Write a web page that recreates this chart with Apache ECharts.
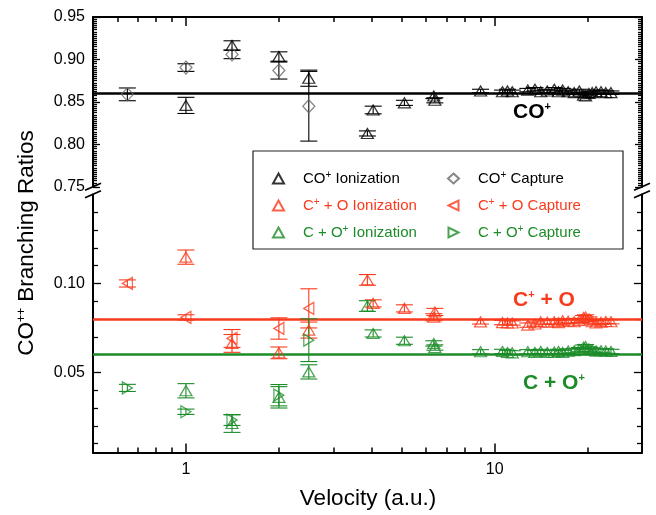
<!DOCTYPE html>
<html>
<head>
<meta charset="utf-8">
<script src="https://cdn.jsdelivr.net/npm/echarts@6/dist/echarts.min.js"></script>
<style>
  html, body { margin: 0; padding: 0; background: #fff; }
  #chart { width: 656px; height: 515px; }
</style>
</head>
<body>
<div id="chart"></div>
<script>
// ---------------- data ----------------
// Projectile velocity (a.u.) of the ionization measurements
const ionVelocity = [1.0, 1.41, 2.0, 2.5, 3.87, 4.04, 5.1, 6.35, 6.4, 9.0, 10.6, 11.0, 11.4, 12.8, 13.5,
  14.1, 14.8, 15.6, 16.1, 16.6, 17.3, 18.1, 18.8, 19.4, 19.7, 20.2, 20.7, 21.3, 22.1, 22.9, 23.8];
// Projectile velocity (a.u.) of the capture measurements
const capVelocity = [0.646, 1.0, 1.41, 2.0, 2.5];

// CO+ channel
const coIonValue = [0.846, 0.9165, 0.9035, 0.878, 0.813, 0.8406, 0.849, 0.857, 0.852, 0.863, 0.862, 0.863, 0.862, 0.864, 0.865,
  0.862, 0.863, 0.865, 0.862, 0.864, 0.862, 0.861, 0.863, 0.858, 0.857, 0.860, 0.861, 0.862, 0.862, 0.861, 0.861];
const coIonError = [0.0095, 0.0055, 0.0055, 0.0095, 0.003, 0.0045, 0.003, 0.003, 0.003, 0.002, 0.002, 0.002, 0.002, 0.002, 0.002,
  0.002, 0.002, 0.002, 0.002, 0.002, 0.002, 0.002, 0.002, 0.002, 0.002, 0.002, 0.002, 0.002, 0.002, 0.002, 0.002];
const coCapValue = [0.859, 0.8905, 0.906, 0.887, 0.845];
const coCapError = [0.0075, 0.0045, 0.005, 0.010, 0.041];

// C+ + O channel
const cpoIonValue = [0.1148, 0.0663, 0.061, 0.0738, 0.102, 0.0888, 0.086, 0.081, 0.084, 0.0784, 0.078, 0.0778, 0.0778, 0.0766, 0.0772,
  0.0784, 0.0782, 0.0785, 0.078, 0.079, 0.0788, 0.0785, 0.0792, 0.0808, 0.0812, 0.080, 0.0785, 0.0778, 0.0782, 0.0786, 0.0785];
const cpoIonError = [0.004, 0.005, 0.0033, 0.0045, 0.003, 0.002, 0.002, 0.002, 0.002, 0.0012, 0.0012, 0.0012, 0.0012, 0.0012, 0.0012,
  0.0012, 0.0012, 0.0012, 0.0012, 0.0012, 0.0012, 0.0012, 0.0012, 0.0012, 0.0012, 0.0012, 0.0012, 0.0012, 0.0012, 0.0012, 0.0012];
const cpoCapValue = [0.100, 0.0809, 0.0691, 0.0747, 0.086];
const cpoCapError = [0.002, 0.0015, 0.005, 0.006, 0.011];

// C + O+ channel
const copIonValue = [0.0397, 0.0213, 0.036, 0.0503, 0.0873, 0.0719, 0.0678, 0.0663, 0.064, 0.0616, 0.0618, 0.0612, 0.061, 0.0616, 0.0612,
  0.0618, 0.0612, 0.0614, 0.0618, 0.0612, 0.062, 0.0622, 0.0628, 0.0642, 0.0645, 0.0632, 0.0626, 0.062, 0.0622, 0.062, 0.0618];
const copIonError = [0.004, 0.005, 0.006, 0.004, 0.003, 0.002, 0.002, 0.0015, 0.0015, 0.0012, 0.0012, 0.0012, 0.0012, 0.0012, 0.0012,
  0.0012, 0.0012, 0.0012, 0.0012, 0.0012, 0.0012, 0.0012, 0.0012, 0.0012, 0.0012, 0.0012, 0.0012, 0.0012, 0.0012, 0.0012, 0.0012];
const copCapValue = [0.0413, 0.0279, 0.0232, 0.0372, 0.0681];
const copCapError = [0.002, 0.0015, 0.003, 0.006, 0.012];

// Average branching ratios (horizontal lines)
const coMean = 0.862;
const cpoMean = 0.0775;
const copMean = 0.060;

// Axis ticks
const xMajorTicks = [1, 10];
const xMinorTicks = [0.6, 0.7, 0.8, 0.9, 2, 3, 4, 5, 6, 7, 8, 9, 20];
const topMajorTicks = [0.75, 0.80, 0.85, 0.90, 0.95];
const bottomMajorTicks = [0.05, 0.10];
const bottomMinorTicks = [0.01, 0.02, 0.03, 0.04, 0.06, 0.07, 0.08, 0.09, 0.11, 0.12, 0.13, 0.14];

// ---------------- drawing ----------------
const FONT = "'Liberation Sans', Arial, Helvetica, sans-serif";
const BLACK = '#000000';
const GREY = '#666666';
const RED = '#fa3a1c';
const GREEN = '#1b8c28';

// Legend icon shapes for the sideways triangles
const LEFT_TRIANGLE = 'path://M0,5L10,0L10,10Z';
const RIGHT_TRIANGLE = 'path://M10,5L0,0L0,10Z';

const topMinorTicks = [];
for (let k = 1; k < 80; k++) {
  if (k % 20 !== 0) topMinorTicks.push(+(0.75 + k * 0.0025).toFixed(4));
}

const chart = echarts.init(document.getElementById('chart'), null, { renderer: 'canvas' });

function pairs(xs, ys) { return xs.map((x, i) => [x, ys[i]]); }
function triples(xs, ys, es) { return xs.map((x, i) => [x, ys[i], es[i]]); }

function errorBars(name, xs, ys, es, color, panel) {
  return {
    type: 'custom',
    name: name + ' err',
    xAxisIndex: panel === 0 ? 0 : 2,
    yAxisIndex: panel === 0 ? 0 : 4,
    data: triples(xs, ys, es),
    encode: { x: 0, y: 1 },
    silent: true,
    z: 3,
    renderItem: function (params, api) {
      const x = api.value(0), y = api.value(1), e = api.value(2);
      const hi = api.coord([x, y + e]);
      const lo = api.coord([x, y - e]);
      const half = 8.5;
      const st = { stroke: color, lineWidth: 1.1, fill: null };
      return {
        type: 'group',
        children: [
          { type: 'line', shape: { x1: hi[0], y1: hi[1], x2: lo[0], y2: lo[1] }, style: st },
          { type: 'line', shape: { x1: hi[0] - half, y1: hi[1], x2: hi[0] + half, y2: hi[1] }, style: st },
          { type: 'line', shape: { x1: lo[0] - half, y1: lo[1], x2: lo[0] + half, y2: lo[1] }, style: st }
        ]
      };
    }
  };
}

function markers(name, xs, ys, color, panel, symbol, rotate, size, meanLine) {
  const s = {
    type: 'scatter',
    name: name,
    xAxisIndex: panel === 0 ? 0 : 2,
    yAxisIndex: panel === 0 ? 0 : 4,
    data: pairs(xs, ys),
    symbol: symbol,
    symbolRotate: rotate,
    symbolSize: size,
    itemStyle: { color: 'rgba(255,255,255,0)', borderColor: color, borderWidth: 1.25 },
    emphasis: { disabled: true },
    z: 4
  };
  if (meanLine !== undefined) {
    s.markLine = {
      silent: true,
      symbol: 'none',
      label: { show: false },
      lineStyle: { color: color, width: 2.6, type: 'solid' },
      data: [{ yAxis: meanLine }],
      z: 2
    };
  }
  return s;
}

function xAxisDef(grid, pos, ticks, len, showLine, labels) {
  return {
    type: 'log', logBase: 10, gridIndex: grid, position: pos, min: 0.5, max: 30,
    axisLine: { show: showLine, lineStyle: { color: BLACK, width: 2 } },
    axisTick: { show: true, inside: true, length: len, customValues: ticks, lineStyle: { color: BLACK, width: 1.5 } },
    axisLabel: labels ? { show: true, customValues: labels, color: BLACK, fontSize: 16, fontFamily: FONT, margin: 9 }
                      : { show: false },
    splitLine: { show: false },
    minorTick: { show: false }
  };
}

function yAxisDef(grid, pos, min, max, ticks, len, showLine, labels) {
  return {
    type: 'value', gridIndex: grid, position: pos, min: min, max: max,
    axisLine: { show: showLine, lineStyle: { color: BLACK, width: 2 } },
    axisTick: { show: true, inside: true, length: len, customValues: ticks, lineStyle: { color: BLACK, width: 1.3 } },
    axisLabel: labels ? { show: true, customValues: labels, color: BLACK, fontSize: 16, fontFamily: FONT, margin: 8,
                          formatter: v => v.toFixed(2) }
                      : { show: false },
    splitLine: { show: false }
  };
}

const supRich = {
  sup: { fontSize: 10, verticalAlign: 'top', lineHeight: 10, fontFamily: FONT }
};
const legendNames = {
  'CO+ Ionization': 'CO{sup|+} Ionization',
  'CO+ Capture': 'CO{sup|+} Capture',
  'C+ + O Ionization': 'C{sup|+} + O Ionization',
  'C+ + O Capture': 'C{sup|+} + O Capture',
  'C + O+ Ionization': 'C + O{sup|+} Ionization',
  'C + O+ Capture': 'C + O{sup|+} Capture'
};

function legendDef(left, items) {
  return {
    orient: 'vertical', left: left, top: 170, padding: 0,
    itemWidth: 11, itemHeight: 10, itemGap: 10,
    selectedMode: false,
    data: items.map(([n, c, icon]) => {
      const d = { name: n, textStyle: { color: c } };
      if (icon) d.icon = icon;
      return d;
    }),
    formatter: n => legendNames[n],
    textStyle: { fontSize: 15, fontFamily: FONT, lineHeight: 17, padding: [0, 0, 0, 14], rich: supRich }
  };
}

const option = {
  backgroundColor: '#ffffff',
  animation: false,
  grid: [
    { left: 93, top: 17, width: 549, height: 170 },
    { left: 93, top: 194.5, width: 549, height: 258 }
  ],
  xAxis: [
    xAxisDef(0, 'top', xMajorTicks, 9, true, null),
    xAxisDef(0, 'top', xMinorTicks, 5, false, null),
    xAxisDef(1, 'bottom', xMajorTicks, 9, true, xMajorTicks),
    xAxisDef(1, 'bottom', xMinorTicks, 5, false, null)
  ],
  yAxis: [
    yAxisDef(0, 'left', 0.75, 0.95, topMajorTicks, 7, true, topMajorTicks),
    yAxisDef(0, 'left', 0.75, 0.95, topMinorTicks, 4, false, null),
    yAxisDef(0, 'right', 0.75, 0.95, topMajorTicks, 7, true, null),
    yAxisDef(0, 'right', 0.75, 0.95, topMinorTicks, 4, false, null),
    yAxisDef(1, 'left', 0.005, 0.15, bottomMajorTicks, 8, true, bottomMajorTicks),
    yAxisDef(1, 'left', 0.005, 0.15, bottomMinorTicks, 5, false, null),
    yAxisDef(1, 'right', 0.005, 0.15, bottomMajorTicks, 8, true, null),
    yAxisDef(1, 'right', 0.005, 0.15, bottomMinorTicks, 5, false, null)
  ],
  legend: [
    legendDef(272, [['CO+ Ionization', BLACK], ['C+ + O Ionization', RED], ['C + O+ Ionization', GREEN]]),
    legendDef(447, [['CO+ Capture', BLACK], ['C+ + O Capture', RED, LEFT_TRIANGLE], ['C + O+ Capture', GREEN, RIGHT_TRIANGLE]])
  ],
  series: [
    errorBars('CO+ Ionization', ionVelocity, coIonValue, coIonError, BLACK, 0),
    errorBars('CO+ Capture', capVelocity, coCapValue, coCapError, BLACK, 0),
    errorBars('C+ + O Ionization', ionVelocity, cpoIonValue, cpoIonError, RED, 1),
    errorBars('C+ + O Capture', capVelocity, cpoCapValue, cpoCapError, RED, 1),
    errorBars('C + O+ Ionization', ionVelocity, copIonValue, copIonError, GREEN, 1),
    errorBars('C + O+ Capture', capVelocity, copCapValue, copCapError, GREEN, 1),
    markers('CO+ Ionization', ionVelocity, coIonValue, BLACK, 0, 'triangle', 0, [12, 10], coMean),
    markers('CO+ Capture', capVelocity, coCapValue, GREY, 0, 'diamond', 0, [12, 13]),
    markers('C+ + O Ionization', ionVelocity, cpoIonValue, RED, 1, 'triangle', 0, [12, 10], cpoMean),
    markers('C+ + O Capture', capVelocity, cpoCapValue, RED, 1, 'triangle', 90, [12, 10]),
    markers('C + O+ Ionization', ionVelocity, copIonValue, GREEN, 1, 'triangle', 0, [12, 10], copMean),
    markers('C + O+ Capture', capVelocity, copCapValue, GREEN, 1, 'triangle', -90, [12, 10])
  ]
};

chart.setOption(option);

// Decorations: axis breaks, legend frame, channel labels and axis titles
const leftX = chart.convertToPixel({ xAxisIndex: 0 }, 0.5);
const rightX = chart.convertToPixel({ xAxisIndex: 0 }, 30);
const breakTop = chart.convertToPixel({ yAxisIndex: 0 }, 0.75);
const breakBottom = chart.convertToPixel({ yAxisIndex: 4 }, 0.15);
const midBreak = (breakTop + breakBottom) / 2;

function breakMarks(x) {
  const st = { stroke: BLACK, lineWidth: 1.8 };
  return [
    { type: 'line', shape: { x1: x - 8, y1: midBreak - 0.5, x2: x + 8, y2: midBreak - 7.5 }, style: st },
    { type: 'line', shape: { x1: x - 8, y1: midBreak + 7, x2: x + 8, y2: midBreak }, style: st }
  ];
}

const boldLabel = (text, x, y, color) => ({
  type: 'text', x: x, y: y, z: 10,
  style: {
    text: text, fill: color, fontSize: 21, fontWeight: 'bold', fontFamily: FONT,
    verticalAlign: 'middle',
    rich: { sup: { fontSize: 11, fontWeight: 'bold', verticalAlign: 'top', lineHeight: 12, fill: color, fontFamily: FONT } }
  }
});

chart.setOption({
  graphic: [
    ...breakMarks(leftX),
    ...breakMarks(rightX),
    {
      type: 'rect', z: 1,
      shape: { x: 253, y: 151, width: 370, height: 98 },
      style: { fill: '#ffffff', stroke: '#222222', lineWidth: 1.2 }
    },
    boldLabel('CO{sup|+}', 513, 112, BLACK),
    boldLabel('C{sup|+} + O', 513, 300, RED),
    boldLabel('C + O{sup|+}', 523, 383, GREEN),
    {
      type: 'text', x: 27, y: 243, rotation: Math.PI / 2, z: 10,
      style: {
        text: 'CO{sup|++} Branching Ratios', fill: BLACK, fontSize: 22.5, fontFamily: FONT,
        align: 'center', verticalAlign: 'middle',
        rich: { sup: { fontSize: 12, verticalAlign: 'top', lineHeight: 12, fill: BLACK, fontFamily: FONT } }
      }
    },
    {
      type: 'text', x: 368, y: 499, z: 10,
      style: {
        text: 'Velocity (a.u.)', fill: BLACK, fontSize: 22.5, fontFamily: FONT,
        align: 'center', verticalAlign: 'middle'
      }
    }
  ]
});
</script>
</body>
</html>
